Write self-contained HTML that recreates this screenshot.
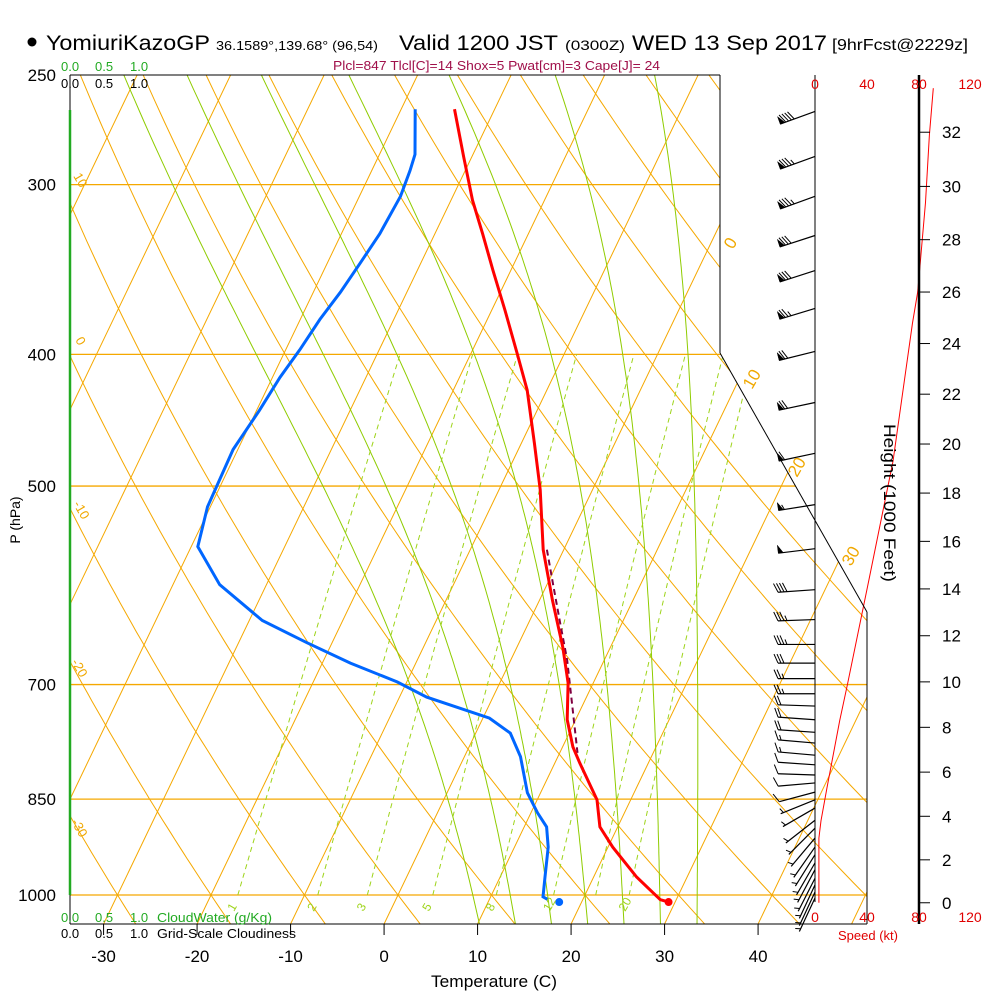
<!DOCTYPE html>
<html><head><meta charset="utf-8"><style>
html,body{margin:0;padding:0;background:#fff;}
svg{display:block;font-family:"Liberation Sans",sans-serif;}
</style></head><body>
<svg id="chart" width="1000" height="1000" viewBox="0 0 1000 1000" xmlns="http://www.w3.org/2000/svg">
<defs><clipPath id="plotclip"><polygon points="70,75 720,75 720,353 867,612 867,924 70,924"/></clipPath></defs>
<g id="grid" clip-path="url(#plotclip)"></g>
<g id="series"></g>
<g id="frame" stroke="#000" fill="none">
<line x1="70" y1="75" x2="720" y2="75"/>
<line x1="720" y1="75" x2="720" y2="353"/>
<line x1="720" y1="353" x2="867" y2="612"/>
<line x1="867" y1="612" x2="867" y2="924"/>
<line x1="70" y1="924" x2="867" y2="924"/>
<line x1="70" y1="75" x2="70" y2="924"/>
<line x1="815" y1="75" x2="815" y2="902"/>
<line x1="919" y1="75" x2="919" y2="924" stroke-width="2.5"/>
</g>
<line x1="70" y1="110" x2="70" y2="895" stroke="#22aa22" stroke-width="2.5"/>
<g id="axes"></g>
<!-- header -->
<circle cx="32" cy="42" r="4.5" fill="#000"/>
<text x="46" y="50" font-size="21" textLength="164" lengthAdjust="spacingAndGlyphs">YomiuriKazoGP</text>
<text x="216" y="50" font-size="13" textLength="162" lengthAdjust="spacingAndGlyphs">36.1589°,139.68° (96,54)</text>
<text x="399" y="50" font-size="21" textLength="159" lengthAdjust="spacingAndGlyphs">Valid 1200 JST</text>
<text x="565" y="50" font-size="14" textLength="60" lengthAdjust="spacingAndGlyphs">(0300Z)</text>
<text x="632" y="50" font-size="21" textLength="195" lengthAdjust="spacingAndGlyphs">WED 13 Sep 2017</text>
<text x="832" y="50" font-size="16" textLength="136" lengthAdjust="spacingAndGlyphs">[9hrFcst@2229z]</text>
<text x="333" y="70" font-size="13" fill="#a0104a" textLength="327" lengthAdjust="spacingAndGlyphs">Plcl=847 Tlcl[C]=14 Shox=5 Pwat[cm]=3 Cape[J]= 24</text>
<g font-size="13">
<text x="61" y="71" fill="#22aa22">0.0</text>
<text x="95" y="71" fill="#22aa22">0.5</text>
<text x="130" y="71" fill="#22aa22">1.0</text>
<text x="61" y="88" fill="#000">0.0</text>
<text x="95" y="88" fill="#000">0.5</text>
<text x="130" y="88" fill="#000">1.0</text>
</g>
<g font-size="13">
<text x="61" y="922" fill="#22aa22">0.0</text>
<text x="95" y="922" fill="#22aa22">0.5</text>
<text x="130" y="922" fill="#22aa22">1.0</text>
<text x="157" y="922" fill="#22aa22" textLength="115" lengthAdjust="spacingAndGlyphs">CloudWater (g/Kg)</text>
<text x="61" y="938" fill="#000">0.0</text>
<text x="95" y="938" fill="#000">0.5</text>
<text x="130" y="938" fill="#000">1.0</text>
<text x="157" y="938" fill="#000" textLength="139" lengthAdjust="spacingAndGlyphs">Grid-Scale Cloudiness</text>
</g>
<text x="494" y="987" font-size="17" text-anchor="middle" textLength="126" lengthAdjust="spacingAndGlyphs">Temperature (C)</text>
<text x="20" y="520" font-size="14" text-anchor="middle" transform="rotate(-90 20 520)">P (hPa)</text>
<text x="884" y="503" font-size="17" text-anchor="middle" transform="rotate(90 884 503)" textLength="158" lengthAdjust="spacingAndGlyphs">Height (1000 Feet)</text>
<text x="868" y="940" font-size="13" fill="#e00000" text-anchor="middle">Speed (kt)</text>
<g font-size="14" fill="#e00000" text-anchor="middle">
<text x="815" y="89">0</text>
<text x="867" y="89">40</text>
<text x="919" y="89">80</text>
<text x="970" y="89">120</text>
</g>
<g font-size="14" fill="#e00000" text-anchor="middle">
<text x="815" y="922">0</text>
<text x="867" y="922">40</text>
<text x="919" y="922">80</text>
<text x="970" y="922">120</text>
</g>
<g font-size="17" fill="#f0a800">
<text x="733" y="250" transform="rotate(-60 733 250)">0</text>
<text x="752" y="390" transform="rotate(-60 752 390)">10</text>
<text x="797" y="478" transform="rotate(-60 797 478)">20</text>
<text x="851" y="567" transform="rotate(-60 851 567)">30</text>
</g>
<g font-size="13" fill="#f0a800">
<text x="73" y="176" transform="rotate(60 73 176)">10</text>
<text x="75" y="340" transform="rotate(60 75 340)">0</text>
<text x="73" y="504" transform="rotate(60 73 504)">-10</text>
<text x="71" y="662" transform="rotate(60 71 662)">-20</text>
<text x="71" y="822" transform="rotate(60 71 822)">-30</text>
</g>
<script>
// ---- data ----
const pressureLevels = [300, 400, 500, 700, 850, 1000];
const tempTicks = [-30, -20, -10, 0, 10, 20, 30, 40];
const isothermValues = [-120,-110,-100,-90,-80,-70,-60,-50,-40,-30,-20,-10,0,10,20,30,40,50];
const dryAdiabatValues = [-40,-30,-20,-10,0,10,20,30,40,50,60,70,80,90,100,110,120,130];
const moistAdiabatValues = [8,12,16,20,24,28,32];
const mixingRatioValues = [1,2,3,5,8,12,16,20];
const mixingRatioLabels = ["1","2","3","5","8","12","","20"];
const tempPressure = [264,286,308,326,347,371,399,425,465,503,557,607,657,698,743,778,800,851,891,922,970,1008];
const tempValues = [-34.3,-30.9,-27.7,-24.9,-21.9,-18.6,-15.1,-12.1,-8.6,-5.6,-2.2,1.4,4.9,7.3,9.1,11.1,12.7,16.4,18.1,20.5,24.6,28.3];
const dewPressure = [264,285,293,306,326,343,360,377,397,416,440,470,518,554,591,628,652,675,697,715,741,760,791,841,870,891,922,970,1003,1008];
const dewValues = [-38.5,-36.2,-35.9,-35.6,-35.9,-36.5,-37.1,-37.9,-38.5,-39.2,-39.7,-40.5,-40.3,-39.3,-35.0,-28.6,-22.7,-17.0,-11.0,-7.1,0.7,3.7,6.0,8.6,10.7,12.4,13.6,14.8,15.6,16.3];
const surfacePressure = 1012;
const surfaceTemp = 29.3;
const surfaceDew = 17.6;
const parcelPressure = [557,593,631,671,727,786];
const parcelValues = [-1.8,0.8,3.4,6.0,9.0,11.9];
const windPressure = [265,286,306,327,347,370,398,434,473,516,556,596,627,654,675,693,711,726,743,759,773,789,802,816,827,840,851,863,881,893,908,922,934,947,958,972,983,995,1005];
const windDir = [250,250,250,252,252,253,256,258,258,261,263,266,268,270,270,270,270,272,274,274,275,275,274,272,265,255,248,240,232,225,220,215,212,210,208,207,205,205,205];
const windSpeed = [90,87,85,82,80,77,72,68,62,55,50,40,37,33,30,27,25,22,20,18,16,14,12,10,9,8,7,6,5,5,4,4,4,3,3,3,3,3,3];
const speedHeights = [0,3.0,3.8,5.3,8.3,9.9,14.4,19.3,24.8,26.0,29.4,31.9,33.6];
const speedValues = [3,3,4.6,9.2,19,25,41.5,60,75,79,85,88,91];
const heightTicks = [0,2,4,6,8,10,12,14,16,18,20,22,24,26,28,30,32];

// ---- axes functions ----
const NS = "http://www.w3.org/2000/svg";
const Y = p => 895 - 590 * Math.log(1000 / p);
const X = (T, p) => 398 + 9.35 * T + 0.48 * (895 - Y(p));
const XatY = (T, y) => 398 + 9.35 * T + 0.48 * (895 - y);
const stdP = hft => 1013.25 * Math.pow(1 - 6.8756e-6 * hft, 5.2559);
const SX = s => 815 + 1.3 * s;
function mk(parent, tag, attrs, name) {
  const el = document.createElementNS(NS, tag);
  for (const k in attrs) el.setAttribute(k, attrs[k]);
  
  
  parent.appendChild(el);
  return el;
}
const grid = document.getElementById('grid');
const series = document.getElementById('series');
const axes = document.getElementById('axes');
const ORANGE = "#f5a800";
const GREEN = "#8fcc00";

pressureLevels.forEach(p => {
  mk(grid, 'line', {x1:70, x2:867, y1:Y(p), y2:Y(p), stroke:ORANGE, 'stroke-width':1.3}, 'isobar-' + p);
  const t = mk(axes, 'text', {x:56, y:Y(p)+6, 'font-size':17, 'text-anchor':'end'}, 'pressure-label-' + p);
  t.textContent = p;
});
const t250 = mk(axes, 'text', {x:56, y:81, 'font-size':17, 'text-anchor':'end'}, 'pressure-label-250');
t250.textContent = '250';

isothermValues.forEach(T => {
  mk(grid, 'line', {x1:XatY(T,924), y1:924, x2:XatY(T,75), y2:75, stroke:ORANGE, 'stroke-width':1}, 'isotherm-' + T);
});
dryAdiabatValues.forEach(th => {
  const thK = th + 273.15; let d = '';
  for (let p = 1060; p >= 240; p -= 10) {
    const T = thK * Math.pow(p / 1000, 0.2857) - 273.15;
    d += (d ? 'L' : 'M') + X(T, p).toFixed(1) + ',' + Y(p).toFixed(1);
  }
  mk(grid, 'path', {d:d, fill:'none', stroke:ORANGE, 'stroke-width':1}, 'dry-adiabat-' + th);
});
function es(Tc){return 6.112*Math.exp(17.67*Tc/(Tc+243.5));}
function dTdp(T, p){
  const Tc=T-273.15, e=es(Tc), rs=0.622*e/(p-e);
  const Rd=287, cp=1005, Lv=2.5e6;
  return (Rd*T + Lv*rs)/(p*(cp + Lv*Lv*rs*0.622/(Rd*T*T)));
}
moistAdiabatValues.forEach(t0 => {
  let T = t0 + 273.15, p = 1000;
  while (p < 1060) { T += dTdp(T,p)*5; p += 5; }
  let d = 'M' + X(T-273.15, p).toFixed(1) + ',' + Y(p).toFixed(1);
  T = t0 + 273.15; p = 1000;
  while (p > 240) { d += 'L' + X(T-273.15, p).toFixed(1) + ',' + Y(p).toFixed(1); T -= dTdp(T,p)*5; p -= 5; }
  mk(grid, 'path', {d:d, fill:'none', stroke:GREEN, 'stroke-width':1}, 'moist-adiabat-' + t0);
});
function tdOfW(w, p){ const e = w*p/(622+w); const l = Math.log(e/6.112); return 243.5*l/(17.67-l); }
mixingRatioValues.forEach((w, i) => {
  let d = '';
  for (let p = 1000; p >= 400; p -= 10) d += (d ? 'L' : 'M') + X(tdOfW(w,p),p).toFixed(1) + ',' + Y(p).toFixed(1);
  mk(grid, 'path', {d:d, fill:'none', stroke:'#9ed41a', 'stroke-width':1, 'stroke-dasharray':'5,4'}, 'mixing-ratio-' + w);
  if (mixingRatioLabels[i]) {
    const x = X(tdOfW(w,1000),1000) - 4;
    const lt = mk(axes, 'text', {x:x, y:912, 'font-size':12, fill:'#9ed41a', transform:'rotate(-60 '+x+' 912)'}, 'mixing-ratio-label-' + w);
    lt.textContent = mixingRatioLabels[i];
  }
});

tempTicks.forEach(T => {
  const x = XatY(T, 924);
  mk(axes, 'line', {x1:x, x2:x, y1:924, y2:935, stroke:'#000'}, 'x-tick-' + T);
  const t = mk(axes, 'text', {x:x, y:962, 'font-size':17, 'text-anchor':'middle'}, 'x-tick-label-' + T);
  t.textContent = T;
});
heightTicks.forEach(h => {
  const y = Y(stdP(h*1000));
  mk(axes, 'line', {x1:919, x2:930, y1:y, y2:y, stroke:'#000'}, 'height-tick-' + h);
  const t = mk(axes, 'text', {x:942, y:y+6, 'font-size':17}, 'height-tick-label-' + h);
  t.textContent = h;
});

function poly(pArr, tArr){ return pArr.map((p,i)=> (i?'L':'M') + X(tArr[i],p).toFixed(1) + ',' + Y(p).toFixed(1)).join(''); }
mk(series, 'path', {d:poly(parcelPressure, parcelValues), fill:'none', stroke:'#800040', 'stroke-width':2, 'stroke-dasharray':'6,4'}, 'parcel-trace');
mk(series, 'path', {d:poly(tempPressure, tempValues) + 'L' + X(surfaceTemp,surfacePressure).toFixed(1) + ',' + Y(surfacePressure).toFixed(1), fill:'none', stroke:'#ff0000', 'stroke-width':3}, 'temperature-line');
mk(series, 'path', {d:poly(dewPressure, dewValues), fill:'none', stroke:'#0066ff', 'stroke-width':3}, 'dewpoint-line');
mk(series, 'circle', {cx:X(surfaceTemp,surfacePressure), cy:Y(surfacePressure), r:4, fill:'#ff0000'}, 'surface-temp-dot');
mk(series, 'circle', {cx:X(surfaceDew,surfacePressure), cy:Y(surfacePressure), r:4, fill:'#0066ff'}, 'surface-dew-dot');

const sd = speedHeights.map((h,i)=> (i?'L':'M') + SX(speedValues[i]).toFixed(1) + ',' + Y(stdP(h*1000)).toFixed(1)).join('');
mk(series, 'path', {d:sd, fill:'none', stroke:'#ff0000', 'stroke-width':1}, 'wind-speed-profile');

windPressure.forEach((p, i) => {
  const g = mk(series, 'g', {stroke:'#000', fill:'#000'}, 'wind-barb-' + p);
  const a = windDir[i] * Math.PI / 180;
  const ux = Math.sin(a), uy = -Math.cos(a);
  const vx = -uy, vy = ux;
  const bx = 815, by = Y(p), L = 37;
  const tx = bx + L*ux, ty = by + L*uy;
  mk(g, 'line', {x1:bx, y1:by, x2:tx, y2:ty, 'stroke-width':1.2}, 'barb-staff');
  let s = Math.round(windSpeed[i] / 5) * 5;
  let pos = 0;
  while (s >= 50) {
    const x1 = tx - pos*ux, y1 = ty - pos*uy;
    const x2 = tx - (pos+5)*ux, y2 = ty - (pos+5)*uy;
    mk(g, 'polygon', {points: x1+','+y1+' '+(x1+8*vx)+','+(y1+8*vy)+' '+x2+','+y2, 'stroke-width':0.5}, 'barb-pennant');
    pos += 6; s -= 50;
  }
  while (s >= 10) {
    const x1 = tx - pos*ux, y1 = ty - pos*uy;
    mk(g, 'line', {x1:x1, y1:y1, x2:x1 + 9*vx + 4*ux, y2:y1 + 9*vy + 4*uy, 'stroke-width':1}, 'barb-full');
    pos += 3; s -= 10;
  }
  if (s >= 5) {
    if (pos === 0) pos = 3;
    const x1 = tx - pos*ux, y1 = ty - pos*uy;
    mk(g, 'line', {x1:x1, y1:y1, x2:x1 + 5*vx + 2*ux, y2:y1 + 5*vy + 2*uy, 'stroke-width':1}, 'barb-half');
  }
});
</script>
</svg>
</body></html>
